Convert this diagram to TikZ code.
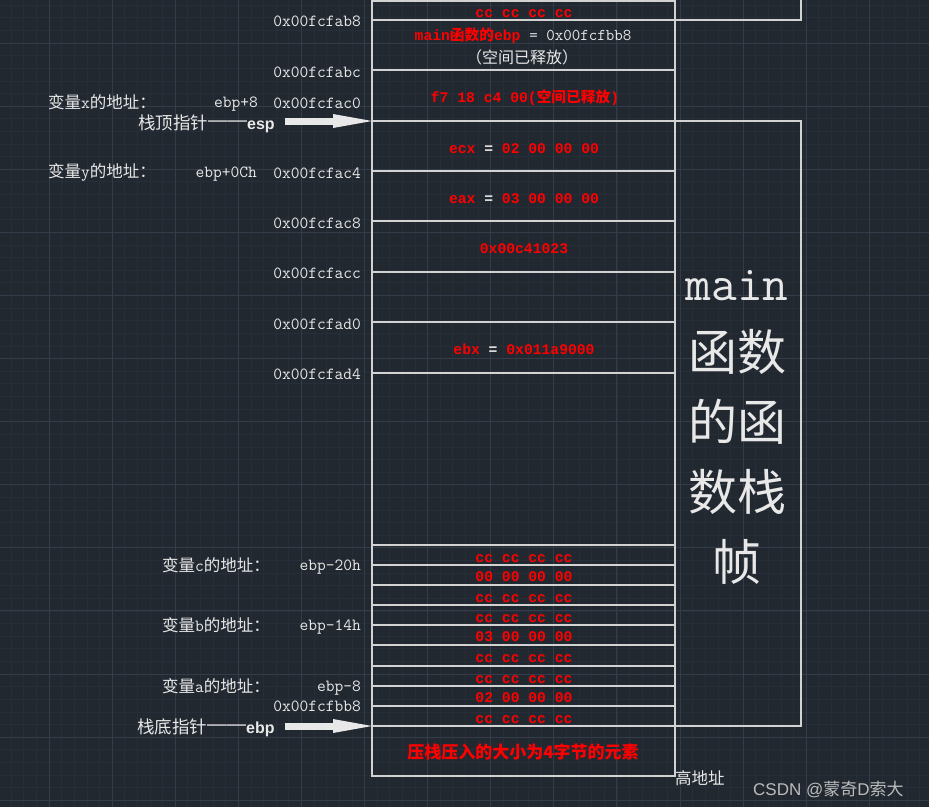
\documentclass[tikz,border=0pt]{standalone}
\usepackage{fontspec}
\usepackage{xcolor}
\usetikzlibrary{arrows.meta}
\newfontfamily\cjk{Noto Sans CJK SC}
\newfontfamily\monob{Liberation Mono}
\newfontfamily\sansb{Liberation Sans}
\definecolor{cadbg}{HTML}{212830}
\definecolor{gridmin}{HTML}{272E39}
\definecolor{gridmaj}{HTML}{343C49}
\definecolor{cadline}{HTML}{D2D2D2}
\definecolor{cadtext}{HTML}{E8E8E8}
\definecolor{markgray}{HTML}{BBBBBB}
\newcommand{\zhs}[1]{{\cjk #1}}
\newcommand{\vl}[1]{{\ttfamily\fontsize{17}{17}\selectfont #1}}
\newcommand{\dashs}{\raisebox{3pt}{\sansb\fontsize{19.5}{19.5}\selectfont ——}}

\begin{document}
\begin{tikzpicture}[x=1pt,y=-1pt,
  addr/.style={anchor=base east,inner sep=0pt,text=cadtext,font=\ttfamily\fontsize{17}{17}\selectfont},
  lbl/.style={anchor=base west,inner sep=0pt,text=cadtext,font=\fontsize{16.5}{16.5}\selectfont},
  val/.style={anchor=base,inner sep=0pt,text=red,font=\monob\bfseries\fontsize{14.7}{15}\selectfont},
  big/.style={anchor=base,inner sep=0pt,text=cadtext},
  ptrlbl/.style={lbl,font=\fontsize{17.5}{17.5}\selectfont},
  ptr/.style={cadtext,line width=7pt,shorten <=10pt,-{Triangle[length=39pt,width=14pt,line width=0pt]}},
  cell/.style={cadline,line width=1.1pt}]
\fill[cadbg] (0,0) rectangle (929,807);
\useasboundingbox (0,0) rectangle (929,807);
\foreach \i in {-4,...,70} \draw[gridmin,line width=0.7pt] (49+12.62*\i,0) -- (49+12.62*\i,807);
\foreach \i in {-3,...,61} \draw[gridmin,line width=0.7pt] (0,43+12.62*\i) -- (929,43+12.62*\i);
\foreach \i in {-1,...,14} \draw[gridmaj,line width=1pt] (49+63.1*\i,0) -- (49+63.1*\i,807);
\foreach \i in {0,...,12} \draw[gridmaj,line width=1pt] (0,43+63.1*\i) -- (929,43+63.1*\i);

\draw[cell] (372,0) -- (372,776) -- (675,776) -- (675,0);
\foreach \y in {1,20,70,121,171,221,272,322,373,545,565,585,605,625,645,666,686,706,726} \draw[cell] (372,\y) -- (675,\y);
\draw[cell] (675,20) -- (801,20) -- (801,0);
\draw[cell] (675,121) -- (801,121) -- (801,726) -- (675,726);

\node[addr] (a0) at (361,26) {0x00fcfab8};
\node[addr] (a1) at (361,77) {0x00fcfabc};
\node[addr] (a2) at (361,108) {0x00fcfac0};
\node[addr] (a3) at (361,178) {0x00fcfac4};
\node[addr] (a4) at (361,228) {0x00fcfac8};
\node[addr] (a5) at (361,278) {0x00fcfacc};
\node[addr] (a6) at (361,329) {0x00fcfad0};
\node[addr] (a7) at (361,379) {0x00fcfad4};
\node[addr] (a8) at (361,711) {0x00fcfbb8};

\node[lbl] (xlbl) at (48,108) {\zhs{变量}\vl{x}\zhs{的地址：}};
\node[addr] (xoff) at (258,107) {ebp+8};
\node[lbl] (ylbl) at (48,177) {\zhs{变量}\vl{y}\zhs{的地址：}};
\node[addr] (yoff) at (257,177) {ebp+0Ch};
\node[lbl] (clbl) at (162,571) {\zhs{变量}\vl{c}\zhs{的地址：}};
\node[addr] (coff) at (361,570) {ebp-20h};
\node[lbl] (blbl) at (162,631) {\zhs{变量}\vl{b}\zhs{的地址：}};
\node[addr] (boff) at (361,630) {ebp-14h};
\node[lbl] (albl) at (162,692) {\zhs{变量}\vl{a}\zhs{的地址：}};
\node[addr] (aoff) at (361,691) {ebp-8};

\node[ptrlbl] (esplbl) at (138,129) {\zhs{栈顶指针}\dashs{\sansb\bfseries\fontsize{16}{16}\selectfont esp}};
\node[ptrlbl] (ebplbl) at (137,733) {\zhs{栈底指针}\dashs{\sansb\bfseries\fontsize{16}{16}\selectfont ebp}};
\coordinate (esptip) at (372,121);
\coordinate (ebptip) at (372,726);
\draw[ptr] (esplbl.east |- esptip) -- (esptip);
\draw[ptr] (ebplbl.east |- ebptip) -- (ebptip);

\node[val] (c0) at (524,17) {cc cc cc cc};
\node[val] (oldebp) at (523,40) {main\zhs{\bfseries 函数的}ebp {\color{cadtext}\mdseries\ttfamily\fontsize{16.5}{17}\selectfont = 0x00fcfbb8}};
\node[val,text=cadtext,font=\cjk\fontsize{16}{16}\selectfont] (freed) at (522,63) {（空间已释放）};
\node[val] (retaddr) at (525,102) {f7 18 c4 00(\zhs{\bfseries 空间已释放})};
\node[val] (ecx) at (524,153) {ecx {\color{cadtext}=} 02 00 00 00};
\node[val] (eax) at (524,203) {eax {\color{cadtext}=} 03 00 00 00};
\node[val] (ret) at (524,253) {0x00c41023};
\node[val] (ebx) at (524,354) {ebx {\color{cadtext}=} 0x011a9000};
\foreach \y/\v [count=\k] in {562/cc cc cc cc,581/00 00 00 00,602/cc cc cc cc,622/cc cc cc cc,641/03 00 00 00,662/cc cc cc cc,683/cc cc cc cc,702/02 00 00 00,723/cc cc cc cc}
  \node[val] (b\k) at (524,\y) {\v};
\node[val,font=\cjk\bfseries\fontsize{17}{17}\selectfont] (note) at (523,758) {压栈压入的大小为4字节的元素};

\node[big,font=\ttfamily\fontsize{50}{50}\selectfont] (fr0) at (737,300) {main};
\node[big,font=\cjk\fontsize{49}{49}\selectfont] (fr1) at (737,370) {函数};
\node[big,font=\cjk\fontsize{49}{49}\selectfont] (fr2) at (737,440) {的函};
\node[big,font=\cjk\fontsize{49}{49}\selectfont] (fr3) at (737,510) {数栈};
\node[big,font=\cjk\fontsize{49}{49}\selectfont] (fr4) at (737,580) {帧};

\node[lbl] (high) at (675,784) {\zhs{高地址}};
\node[lbl,text=markgray,font=\sansb\fontsize{17}{17}\selectfont] (mark) at (753,795) {CSDN @\zhs{蒙奇}D\zhs{索大}};
\end{tikzpicture}
\end{document}
